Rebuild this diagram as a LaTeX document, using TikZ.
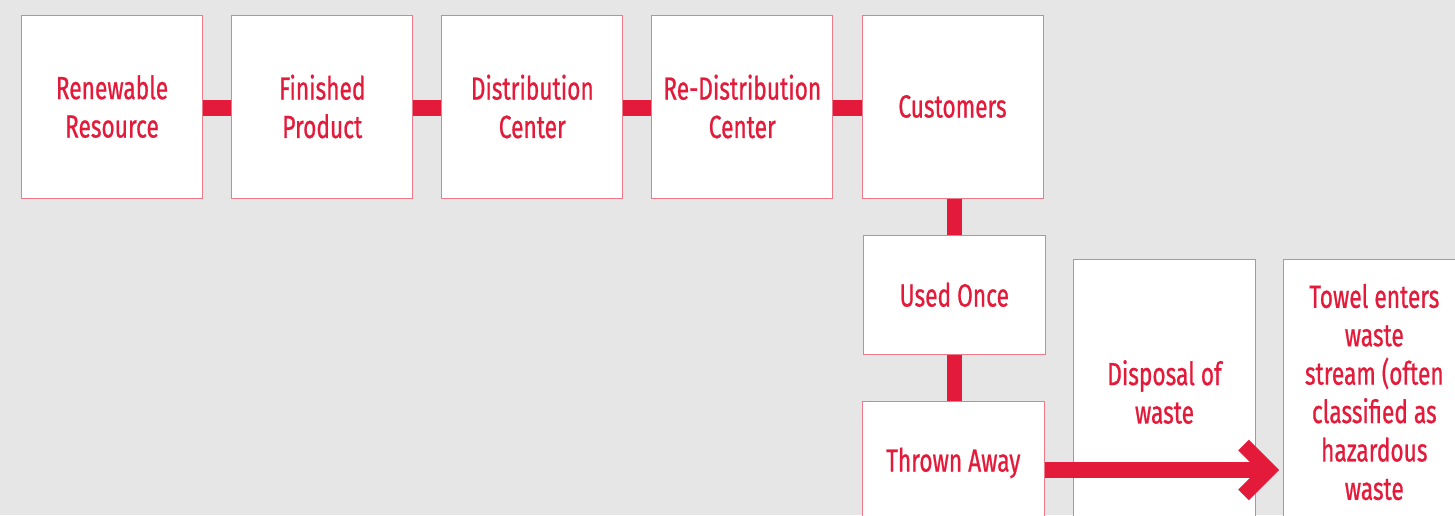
\documentclass[tikz,border=0pt]{standalone}
\usepackage{fontspec}
\setmainfont{Fira Sans}[FakeStretch=0.71,FakeBold=0.7]
\usetikzlibrary{calc}
\definecolor{bg}{HTML}{E6E6E6}
\definecolor{crim}{HTML}{E41A3A}
\definecolor{edge}{HTML}{EC7A8A}
\tikzset{
  box/.style={draw=edge, line width=1pt, fill=white, text=crim, align=center,
    inner sep=0pt, font=\fontsize{32}{38.4}\selectfont},
  conn/.style={draw=crim, line width=16pt},
}
\begin{document}
\begin{tikzpicture}[x=1pt,y=-1pt]
\fill[bg] (0,0) rectangle (1455,515);
\useasboundingbox (0,0) rectangle (1455,515);
\clip (0,0) rectangle (1455,515);
% top row
\node[box, minimum width=181pt, minimum height=183pt] (b1) at (112,106.5) {Renewable\\Resource};
\node[box, minimum width=181pt, minimum height=183pt] (b2) at (322.3,106.5) {Finished\\Product};
\node[box, minimum width=181pt, minimum height=183pt] (b3) at (532.3,106.5) {Distribution\\Center};
\node[box, minimum width=181pt, minimum height=183pt] (b4) at (742.3,106.5) {Re-Distribution\\Center};
\node[box, minimum width=181pt, minimum height=183pt] (b5) at (952.5,106.5) {Customers};
% column
\node[box, minimum width=182pt, minimum height=118.7pt] (used) at (954.3,294.7) {Used Once};
\node[box, minimum width=182pt, minimum height=124pt] (thrown) at (953.3,463) {Thrown Away};
\node[box, minimum width=182.4pt, minimum height=266pt] (disp) at (1164.5,392) {Disposal of\\waste};
\node[box, minimum width=182pt, minimum height=266pt] (towel) at (1374.3,392) {Towel enters\\waste\\stream (often\\classified as\\hazardous\\waste};
% connectors
\draw[conn] ([yshift=-1.8pt]b1.east) -- ([yshift=-1.8pt]b2.west);
\draw[conn] ([yshift=-1.8pt]b2.east) -- ([yshift=-1.8pt]b3.west);
\draw[conn] ([yshift=-1.8pt]b3.east) -- ([yshift=-1.8pt]b4.west);
\draw[conn] ([yshift=-1.8pt]b4.east) -- ([yshift=-1.8pt]b5.west);
\draw[conn, line width=15pt] (used.north |- b5.south) -- (used.north);
\draw[conn, line width=15pt] (used.south) -- (used.south |- thrown.north);
% arrow to towel
\coordinate (start) at ([yshift=-7pt]thrown.east);
\coordinate (tip) at ([xshift=-3.3pt]towel.west |- start);
\draw[conn] (start) -- ($(tip)+(-14,0)$);
\draw[conn, line width=15pt, miter limit=10] ($(tip)+(-36,-25)$) -- ($(tip)+(-11,0)$) -- ($(tip)+(-36,25)$);
\end{tikzpicture}
\end{document}
